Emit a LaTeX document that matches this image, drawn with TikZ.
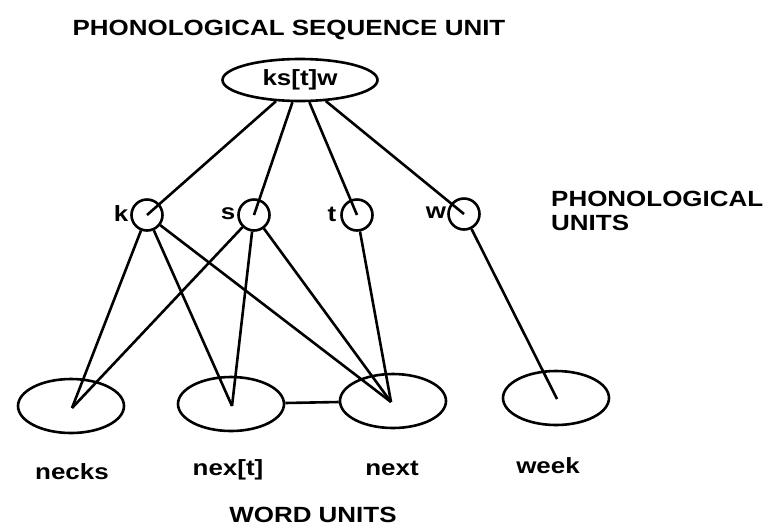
\documentclass[tikz,border=0pt]{standalone}
\usepackage{fontspec}
\setmainfont{Liberation Sans}
\usetikzlibrary{shapes.geometric}
% wide bold lettering
\newcommand{\wide}[1]{\scalebox{1.18}[1]{#1}}
\begin{document}
\begin{tikzpicture}[x=1pt,y=-1pt,
  every node/.style={font=\fontsize{22}{26}\selectfont\bfseries},
  link/.style={line width=2.6pt},
  oval/.style={draw,ellipse,line width=2.6pt,inner sep=0pt},
  unit/.style={draw,circle,line width=2.6pt,minimum size=31pt,inner sep=0pt},
  lbl/.style={inner sep=0pt}]
\useasboundingbox (0,0) rectangle (765,531);

% sequence unit
\node[lbl] (title) at (289,30) {\wide{PHONOLOGICAL SEQUENCE UNIT}};
\node[oval,minimum width=155pt,minimum height=42pt] (top) at (300,80) {\wide{ks[t]w}};

% phonological units
\node[unit] (k) at (147,215) {};
\node[unit] (s) at (254,215) {};
\node[unit] (t) at (357,215) {};
\node[unit] (w) at (464,214) {};
\node[lbl] (lk) at (121,214) {\wide{k}};
\node[lbl] (ls) at (228,214) {\wide{s}};
\node[lbl] (lt) at (332,214) {\wide{t}};
\node[lbl] (lw) at (436,213) {\wide{w}};
\node[lbl,anchor=west,align=left] (pu) at (551,211) {\wide{PHONOLOGICAL}\\[-2pt]\wide{UNITS}};

% word units
\node[oval,minimum width=106pt,minimum height=54pt] (necks) at (71,406) {};
\node[oval,minimum width=106pt,minimum height=54pt] (nex) at (231,404) {};
\node[oval,minimum width=106pt,minimum height=54pt] (next) at (393,401) {};
\node[oval,minimum width=106pt,minimum height=54pt] (week) at (556,398) {};
\node[lbl] (lnecks) at (72,472) {\wide{necks}};
\node[lbl] (lnex) at (228,470) {\wide{nex[t]}};
\node[lbl] (lnext) at (392,468) {\wide{next}};
\node[lbl] (lweek) at (548,466) {\wide{week}};
\node[lbl] (wu) at (313,515) {\wide{WORD UNITS}};

% end points of the links inside the word units
\coordinate (e1) at (72,408);
\coordinate (e2) at (232,406);
\coordinate (e3) at (391,402);
\coordinate (e4) at (557,399);

% links from the sequence unit
\foreach \u in {k,s,t,w} \draw[link] (top) -- (\u.center);

% links to the word units
\draw[link] (k) -- (e1);
\draw[link] (k) -- (e2);
\draw[link] (k) -- (e3);
\draw[link] (s) -- (e1);
\draw[link] (s) -- (e2);
\draw[link] (s) -- (e3);
\draw[link] (t) -- (e3);
\draw[link] (w) -- (e4);
\draw[link] (nex) -- (next);
\end{tikzpicture}
\end{document}
